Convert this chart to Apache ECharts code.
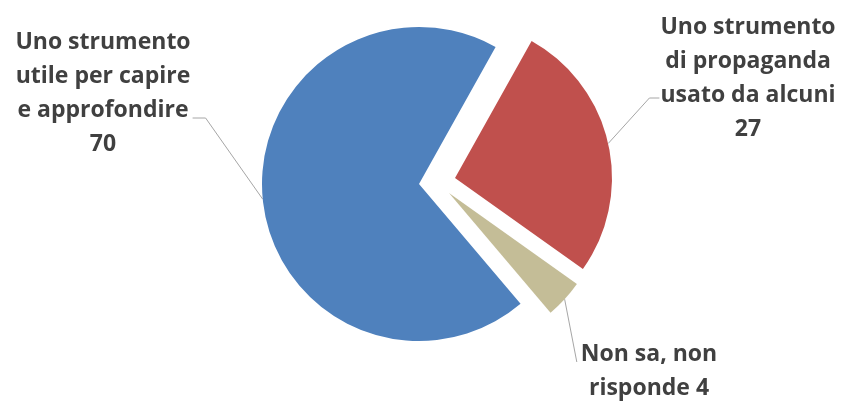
<!DOCTYPE html>
<html><head><meta charset="utf-8">
<script src="https://cdn.jsdelivr.net/npm/echarts@6/dist/echarts.min.js"></script>
<style>html,body{margin:0;padding:0;background:#fff}#c{width:845px;height:407px}</style>
</head><body><div id="c"></div>
<script>
// ---- data ----
const categories = ['Uno strumento\ndi propaganda\nusato da alcuni', 'Non sa, non\nrisponde', 'Uno strumento\nutile per capire\ne approfondire'];
const values = [27, 4, 70];
const valueSeparators = ['\n', ' ', '\n'];
const colors = ['#c0504d', '#c4bd97', '#4f81bd'];

// ---- layout ----
const centers = [[455, 178], [449, 193], [419, 184]]; // exploded slice centres
const labelCenters = [[748, 78], [649, 371], [103, 93]];
const R = 157;
const LINE_H = 34;

const chart = echarts.init(document.getElementById('c'), null, { renderer: 'canvas' });

function makeLayout(k) {
  return function (p) {
    if (p.dataIndex !== k) return {};
    const [cx, cy] = labelCenters[k];
    const w = p.labelRect.width, h = p.labelRect.height;
    const left = cx - w / 2, right = cx + w / 2, top = cy - h / 2;
    const a = p.labelLinePoints ? p.labelLinePoints[0] : [cx, cy];
    let pts;
    if (k === 0) {
      const y = top + 2.5 * LINE_H + 3;
      pts = [a, [left - 11, y], [left - 1, y]];
    } else if (k === 2) {
      const y = top + 2.5 * LINE_H + 8;
      pts = [a, [right + 15, y], [right + 2, y]];
    } else {
      const y = cy - 9;
      pts = [a, [left - 4, y]];
    }
    return { x: cx, y: cy, align: 'center', verticalAlign: 'middle', labelLinePoints: pts };
  };
}

const series = centers.map((center, k) => ({
  type: 'pie',
  center: center,
  radius: R,
  startAngle: 60.8,
  clockwise: true,
  silent: true,
  animation: false,
  avoidLabelOverlap: false,
  emphasis: { disabled: true },
  label: { show: false },
  labelLine: { show: false },
  labelLayout: makeLayout(k),
  data: categories.map((name, i) => ({
    name: name,
    value: values[i],
    itemStyle: { color: colors[i], opacity: i === k ? 1 : 0 },
    label: {
      show: i === k,
      position: 'outside',
      formatter: (pp) => pp.name + valueSeparators[pp.dataIndex] + pp.value,
      fontFamily: 'Open Sans',
      fontWeight: 'bold',
      fontSize: 23,
      lineHeight: LINE_H,
      color: '#404040',
      align: 'center'
    },
    labelLine: {
      show: i === k,
      smooth: false,
      lineStyle: { color: '#a6a6a6', width: 1 }
    }
  }))
}));

chart.setOption({ backgroundColor: '#ffffff', animation: false, series: series });
</script>
</body></html>
